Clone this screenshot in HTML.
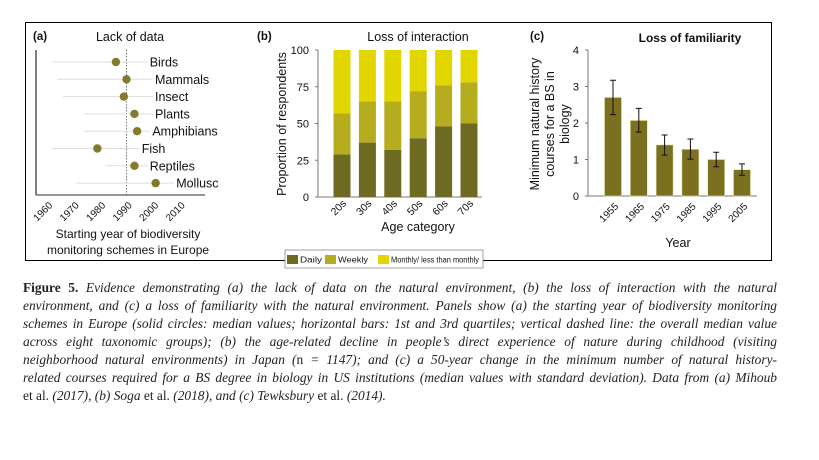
<!DOCTYPE html>
<html><head><meta charset="utf-8">
<style>
body{margin:0;background:#fff;width:819px;height:460px;overflow:hidden;position:relative;font-family:"Liberation Sans",sans-serif}
#frame{position:absolute;left:25px;top:22px;width:747px;height:239px;border:1.2px solid #000;box-sizing:border-box}
.cap{position:absolute;left:23px;width:754px;font-family:"Liberation Serif",serif;font-style:italic;font-size:13.4px;color:#222;text-align:justify;text-align-last:justify;white-space:nowrap;line-height:18px;height:18px;overflow:visible}
.cap.last{text-align-last:left}
svg{position:absolute;left:0;top:0}
</style></head><body>
<div id="frame"></div>
<svg id="chart" width="819" height="270"></svg>
<div class="cap" style="top:279px;text-align:justify"><b style="font-style:normal">Figure 5.</b> Evidence demonstrating (a) the lack of data on the natural environment, (b) the loss of interaction with the natural</div>
<div class="cap" style="top:297px">environment, and (c) a loss of familiarity with the natural environment. Panels show (a) the starting year of biodiversity monitoring</div>
<div class="cap" style="top:315px">schemes in Europe (solid circles: median values; horizontal bars: 1st and 3rd quartiles; vertical dashed line: the overall median value</div>
<div class="cap" style="top:333px">across eight taxonomic groups); (b) the age-related decline in people’s direct experience of nature during childhood (visiting</div>
<div class="cap" style="top:351px">neighborhood natural environments) in Japan (<span style="font-style:normal">n</span> = 1147); and (c) a 50-year change in the minimum number of natural history-</div>
<div class="cap" style="top:369px">related courses required for a BS degree in biology in US institutions (median values with standard deviation). Data from (a) Mihoub</div>
<div class="cap last" style="top:387px"><span style="font-style:normal">et al.</span> (2017), (b) Soga <span style="font-style:normal">et al.</span> (2018), and (c) Tewksbury <span style="font-style:normal">et al.</span> (2014).</div>
<script>
// Panel a data
const taxa=["Birds","Mammals","Insect","Plants","Amphibians","Fish","Reptiles","Mollusc"];
const medianYear=[1986,1990,1989,1993,1994,1979,1993,2001];
const q1Year=[1962,1964,1966,1974,1974,1962,1982,1971];
const q3Year=[1998,2000,2000,2000,1999,1995,1998,2008];
const yearTicks=[1960,1970,1980,1990,2000,2010];
const overallMedian=1990;
// Panel b data
const ageCats=["20s","30s","40s","50s","60s","70s"];
const daily=[29,37,32,40,48,50];
const weekly=[28,28,33,32,28,28];
const monthly=[43,35,35,28,24,22];
const propTicks=[0,25,50,75,100];
// Panel c data
const years=["1955","1965","1975","1985","1995","2005"];
const courses=[2.7,2.07,1.4,1.28,1.0,0.72];
const errHi=[3.17,2.4,1.67,1.56,1.2,0.88];
const errLo=[2.23,1.75,1.12,1.01,0.8,0.57];
const courseTicks=[0,1,2,3,4];

const S=document.getElementById('chart');
const NS='http://www.w3.org/2000/svg';
function el(t,a,txt){const e=document.createElementNS(NS,t);for(const k in a)e.setAttribute(k,a[k]);if(txt!==undefined)e.textContent=txt;S.appendChild(e);return e;}
function txt(x,y,s,size,anchor,name,extra){const e=el('text',Object.assign({x:x,y:y,'font-size':size,'text-anchor':anchor||'middle','font-family':'Liberation Sans, sans-serif',fill:'#111'},extra||{}),s);return e;}

// ---- Panel a
const ax=y=>47+(y-1960)*2.65;
const ay=i=>62+i*17.3;
txt(33,40,"(a)",11.5,'start','panel-a-label',{'font-weight':'bold'});
txt(130,41,"Lack of data",12.5,'middle','panel-a-title');
let l=el('line',{x1:36,y1:50,x2:36,y2:195,stroke:'#555','stroke-width':1.5});
l=el('line',{x1:36,y1:195,x2:205,y2:195,stroke:'#555','stroke-width':1.2});
l=el('line',{x1:ax(overallMedian),y1:50,x2:ax(overallMedian),y2:195,stroke:'#555','stroke-width':0.8,'stroke-dasharray':'1.5,1.5'});
taxa.forEach((t,i)=>{
  let b=el('line',{x1:ax(q1Year[i]),y1:ay(i),x2:ax(q3Year[i]),y2:ay(i),stroke:'#ddd','stroke-width':1});
  
  let c=el('circle',{cx:ax(medianYear[i]),cy:ay(i),r:4.2,fill:'#857a2a'});
  
  txt(ax(q3Year[i])+2,ay(i)+4.5,t,12.5,'start','taxon-label');
});
yearTicks.forEach(y=>{txt(ax(y)+6,206,String(y),10,'end','x-tick-a',{transform:`rotate(-45 ${ax(y)+6} 206)`});});
txt(128,238,"Starting year of biodiversity",12,'middle','x-axis-title-a');
txt(128,254,"monitoring schemes in Europe",12,'middle','x-axis-title-a');

// ---- Panel b
const by=v=>197-v*1.47;
const bx=i=>342+i*25.4;
const bw=17;
txt(257,40,"(b)",11.5,'start','panel-b-label',{'font-weight':'bold'});
txt(418,41,"Loss of interaction",12.5,'middle','panel-b-title');
l=el('line',{x1:318,y1:50,x2:318,y2:197,stroke:'#777','stroke-width':1});
l=el('line',{x1:318,y1:197,x2:482,y2:197,stroke:'#777','stroke-width':1});
propTicks.forEach(v=>{txt(309,by(v)+4,String(v),11,'end','y-tick-b');let t=el('line',{x1:315,y1:by(v),x2:318,y2:by(v),stroke:'#777'});});
const colB=['#6f6a22','#b5ad1e','#e2d600'];
ageCats.forEach((c,i)=>{
  const segs=[daily[i],weekly[i],monthly[i]];let acc=0;
  const names=['bar-daily','bar-weekly','bar-monthly'];
  segs.forEach((v,k)=>{let r=el('rect',{x:bx(i)-bw/2,y:by(acc+v),width:bw,height:by(acc)-by(acc+v),fill:colB[k]});acc+=v;});
  txt(bx(i)+5,204,c,10.5,'end','x-tick-b',{transform:`rotate(-45 ${bx(i)+5} 204)`});
});
txt(286,124,"Proportion of respondents",12.5,'middle','y-axis-title-b',{transform:'rotate(-90 286 124)'});
txt(418,231,"Age category",12.5,'middle','x-axis-title-b');
l=el('rect',{x:285,y:250,width:198,height:18,fill:'#fff',stroke:'#888','stroke-width':0.8});
[['Daily',287,22],['Weekly',325,30],['Monthly/ less than monthly',378,88]].forEach((e,k)=>{
  let r=el('rect',{x:e[1],y:255,width:11,height:9,fill:colB[k]});
  txt(e[1]+13,262.5,e[0],8,'start','legend-entry',{textLength:e[2],lengthAdjust:'spacingAndGlyphs'});
});

// ---- Panel c
const cy=v=>196-v*36.5;
const cx=i=>613+i*25.8;
txt(530,40,"(c)",11.5,'start','panel-c-label',{'font-weight':'bold'});
txt(690,42,"Loss of familiarity",12,'middle','panel-c-title',{'font-weight':'bold'});
l=el('line',{x1:588,y1:50,x2:588,y2:196,stroke:'#777','stroke-width':1});
l=el('line',{x1:588,y1:196,x2:757,y2:196,stroke:'#777','stroke-width':1});
courseTicks.forEach(v=>{txt(579,cy(v)+4,String(v),11,'end','y-tick-c');let t=el('line',{x1:585,y1:cy(v),x2:588,y2:cy(v),stroke:'#777'});});
years.forEach((y,i)=>{
  let r=el('rect',{x:cx(i)-8.5,y:cy(courses[i]),width:17,height:cy(0)-cy(courses[i]),fill:'#7b7020',stroke:'#e8e4b0','stroke-width':0.6});
  let e=el('path',{d:`M${cx(i)},${cy(errLo[i])}V${cy(errHi[i])}M${cx(i)-3},${cy(errLo[i])}h6M${cx(i)-3},${cy(errHi[i])}h6`,stroke:'#111','stroke-width':1,fill:'none'});
  txt(cx(i)+6,207,y,10,'end','x-tick-c',{transform:`rotate(-45 ${cx(i)+6} 207)`});
});
txt(539,124,"Minimum natural history",12.5,'middle','y-axis-title-c',{transform:'rotate(-90 539 124)'});
txt(554,124,"courses for a BS in",12.5,'middle','y-axis-title-c',{transform:'rotate(-90 554 124)'});
txt(569,124,"biology",12.5,'middle','y-axis-title-c',{transform:'rotate(-90 569 124)'});
txt(678,247,"Year",12.5,'middle','x-axis-title-c');
</script>
</body></html>
